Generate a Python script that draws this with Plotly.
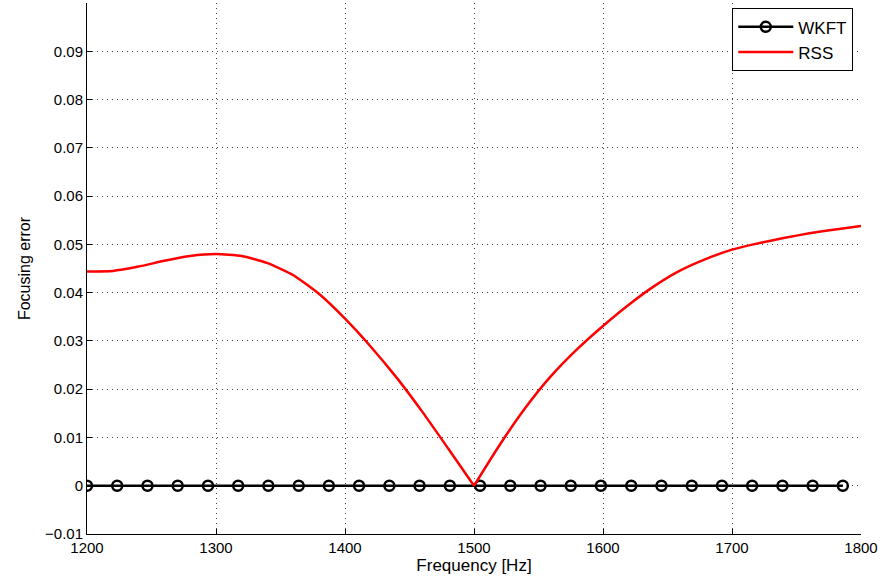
import plotly.graph_objects as go

# Data
rss_freq_left = [1200, 1220, 1240, 1260, 1280, 1300, 1320, 1340, 1360, 1380,
                 1400, 1420, 1440, 1460, 1480, 1500]
rss_err_left = [0.0444, 0.0445, 0.0454, 0.0466, 0.0476, 0.0480, 0.0476, 0.0461,
                0.0436, 0.0397, 0.0346, 0.0288, 0.0224, 0.0153, 0.0077, 0.0]
rss_freq_right = [1500, 1520, 1540, 1560, 1580, 1600, 1620, 1640, 1660, 1680,
                  1700, 1720, 1740, 1760, 1780, 1800]
rss_err_right = [0.0, 0.0085, 0.0162, 0.0228, 0.0283, 0.0331, 0.0375, 0.0414,
                 0.0446, 0.0470, 0.0489, 0.0502, 0.0513, 0.0523, 0.0531, 0.0538]

wkft_freq = [1200.0, 1223.4, 1246.9, 1270.3, 1293.8, 1317.2, 1340.6, 1364.1,
             1387.5, 1410.9, 1434.4, 1457.8, 1481.3, 1504.7, 1528.1, 1551.6,
             1575.0, 1598.4, 1621.9, 1645.3, 1668.8, 1692.2, 1715.6, 1739.1,
             1762.5, 1785.9]
wkft_err = [0.0] * len(wkft_freq)

x_ticks = [1200, 1300, 1400, 1500, 1600, 1700, 1800]
y_ticks = [-0.01, 0, 0.01, 0.02, 0.03, 0.04, 0.05, 0.06, 0.07, 0.08, 0.09]
y_labels = ["\u22120.01", "0", "0.01", "0.02", "0.03", "0.04", "0.05",
            "0.06", "0.07", "0.08", "0.09"]

font = "Liberation Sans, Arial, sans-serif"

fig = go.Figure()
fig.add_trace(go.Scatter(
    x=wkft_freq, y=wkft_err, name="WKFT", mode="lines+markers",
    line=dict(color="black", width=2.5),
    marker=dict(symbol="circle-open", size=10, color="black",
                line=dict(width=2.5, color="black")),
))
fig.add_trace(go.Scatter(
    x=rss_freq_left, y=rss_err_left, name="RSS", mode="lines",
    legendgroup="rss",
    line=dict(color="#ff0000", width=2.5, shape="spline", smoothing=0.5),
))
fig.add_trace(go.Scatter(
    x=rss_freq_right, y=rss_err_right, name="RSS", mode="lines",
    legendgroup="rss", showlegend=False,
    line=dict(color="#ff0000", width=2.5, shape="spline", smoothing=0.5),
))

grid = dict(showgrid=True, gridcolor="#444444", gridwidth=1,
            griddash="1px,4px", zeroline=False, showline=True,
            linecolor="black", linewidth=1, ticks="inside", ticklen=5,
            tickcolor="black", mirror=False,
            tickfont=dict(family=font, size=15, color="black"))

fig.update_layout(
    width=883, height=583,
    margin=dict(l=87, r=22, t=3, b=49),
    paper_bgcolor="white", plot_bgcolor="white",
    font=dict(family=font, size=15, color="black"),
    xaxis=dict(range=[1200, 1800], tickvals=x_ticks,
               title=dict(text="Frequency [Hz]", standoff=1,
                          font=dict(family=font, size=17)),
               **grid),
    yaxis=dict(range=[-0.01, 0.1], tickvals=y_ticks, ticktext=y_labels,
               title=dict(text="Focusing error", standoff=10,
                          font=dict(family=font, size=16)),
               **grid),
    legend=dict(x=0.99, y=0.99, xanchor="right", yanchor="top",
                bgcolor="white", bordercolor="black", borderwidth=1,
                font=dict(family=font, size=17), tracegroupgap=0,
                itemwidth=55),
    showlegend=True,
)

fig.write_html("out.html")
